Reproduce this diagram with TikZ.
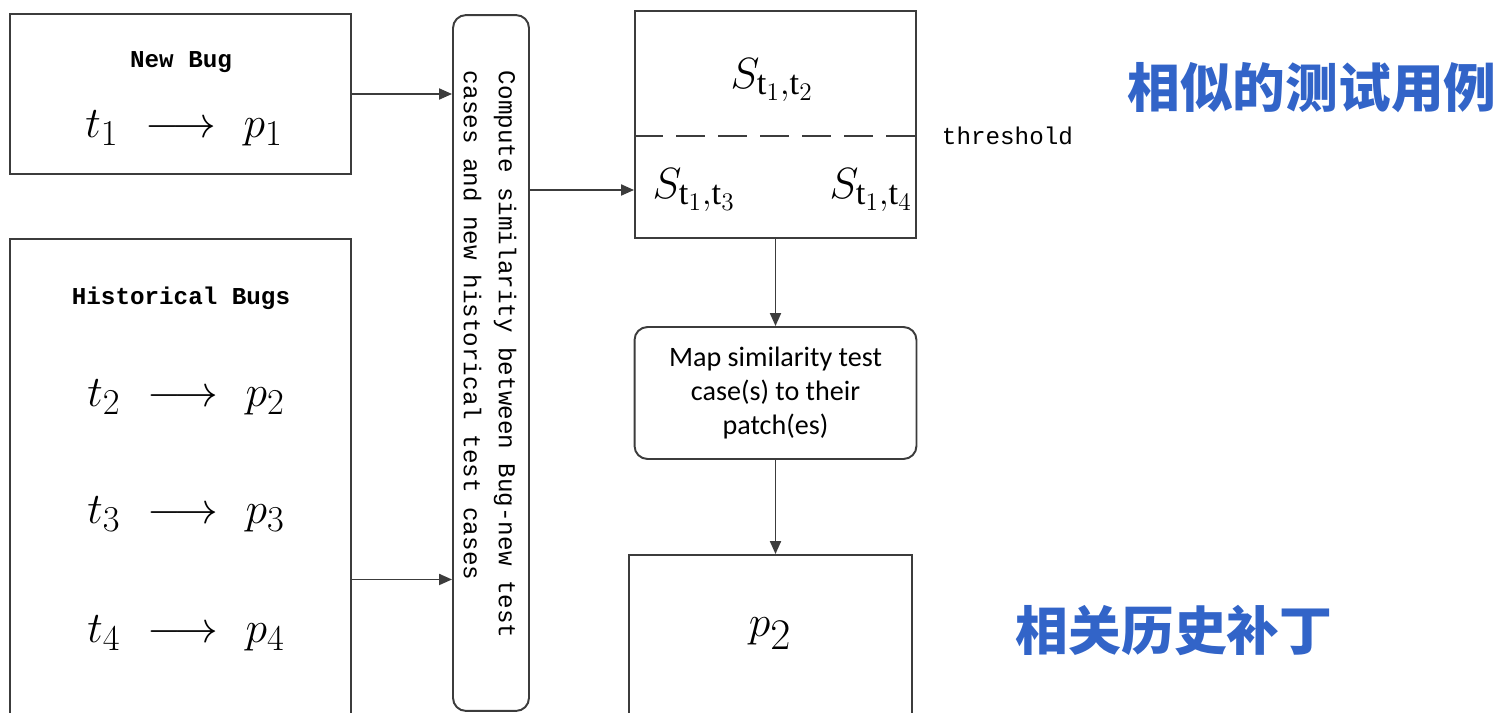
\documentclass[tikz,border=0pt]{standalone}
\usepackage{amsmath, amssymb}
\usepackage{fontspec}
\setmainfont{Liberation Serif}
\setsansfont{Carlito}
\setmonofont{Liberation Mono}
\newfontfamily\cjk{Noto Sans CJK SC}
\usetikzlibrary{arrows.meta}
\definecolor{linegray}{RGB}{60,60,60}
\definecolor{cnblue}{RGB}{50,100,200}

\begin{document}
\begin{tikzpicture}[x=0.02cm, y=-0.02cm, line width=1.1pt]
    \tikzstyle{every node}+=[inner sep=0pt]
    \tikzstyle{bugbox}=[draw=linegray, rectangle]
    \tikzstyle{roundbox}=[draw=linegray, rectangle, rounded corners=0.26cm]
    \tikzstyle{arr}=[draw=linegray, -{Triangle[length=0.26cm,width=0.22cm]}]
    \tikzstyle{mono}=[font=\ttfamily\fontsize{13.8}{19.8}\selectfont]
    \tikzstyle{monobold}=[font=\ttfamily\bfseries\fontsize{13.8}{19.8}\selectfont]
    \tikzstyle{formula}=[font=\fontsize{29}{33}\selectfont]
    \tikzstyle{simval}=[font=\fontsize{28}{32}\selectfont]
    \tikzstyle{cnlabel}=[text=cnblue, font=\cjk\bfseries\fontsize{30}{34}\selectfont]
    \useasboundingbox (0,0) rectangle (1501,713);
    \clip (0,0) rectangle (1501,713);
    % left column
    \node[bugbox, minimum width=6.82cm, minimum height=3.2cm] (newbug) at (180.5,94) {};
    \node[monobold] (newtitle) at (181,62) {New Bug};
    \node[formula] (pair1) at (184,128) {$t_1\hspace{0.3em}\longrightarrow\hspace{0.3em}p_1$};
    \node[bugbox, minimum width=6.82cm, minimum height=9.62cm] (hist) at (180.5,479.5) {};
    \node[monobold] (histtitle) at (181,298) {Historical Bugs};
    \foreach \i/\y in {2/397,3/514,4/633}
        \node[formula] (pair\i) at (186,\y) {$t_\i\hspace{0.3em}\longrightarrow\hspace{0.3em}p_\i$};
    % similarity step
    \node[roundbox, minimum width=1.52cm, minimum height=13.92cm] (compute) at (491,363) {};
    \node[mono, rotate=-90, anchor=west, align=left] (computetext) at (490,70)
        {Compute similarity between Bug-new test\\cases and new historical test cases};
    % right column
    \node[bugbox, minimum width=5.62cm, minimum height=4.54cm] (sbox) at (775.5,124.5) {};
    \draw[draw=linegray, dash pattern=on 0.58cm off 0.26cm] ([yshift=-0.23cm]sbox.west) -- ([yshift=-0.23cm]sbox.east);
    \node[mono, anchor=west] (thr) at (941,136) {threshold};
    \node[simval] (s12) at (772,80) {$S_{\mathrm{t}_1,\mathrm{t}_2}$};
    \node[simval] (s13) at (694,190) {$S_{\mathrm{t}_1,\mathrm{t}_3}$};
    \node[simval] (s14) at (871,190) {$S_{\mathrm{t}_1,\mathrm{t}_4}$};
    \node[roundbox, minimum width=5.64cm, minimum height=2.64cm, align=center,
          font=\sffamily\fontsize{16}{19.4}\selectfont] (mapbox) at (775.5,393)
        {Map similarity test\\case(s) to their\\patch(es)};
    \node[bugbox, minimum width=5.66cm, minimum height=3.3cm] (patchbox) at (770.5,637.5) {};
    \node[font=\fontsize{34}{38}\selectfont] (result) at (770,634) {$p_2$};
    \node[cnlabel] (cnsim) at (1312,88) {相似的测试用例};
    \node[cnlabel] (cnpatch) at (1174,630) {相关历史补丁};
    % connectors
    \draw[arr] (newbug.east) -- (newbug.east -| compute.west);
    \draw[arr] ([yshift=-2cm]hist.east) -- ([yshift=-2cm]hist.east -| compute.west);
    \draw[arr] ([yshift=-1.31cm]sbox.west -| compute.east) -- ([yshift=-1.31cm]sbox.west);
    \draw[arr] (sbox.south) -- (mapbox.north);
    \draw[arr] (mapbox.south) -- (mapbox.south |- patchbox.north);
\end{tikzpicture}
\end{document}
